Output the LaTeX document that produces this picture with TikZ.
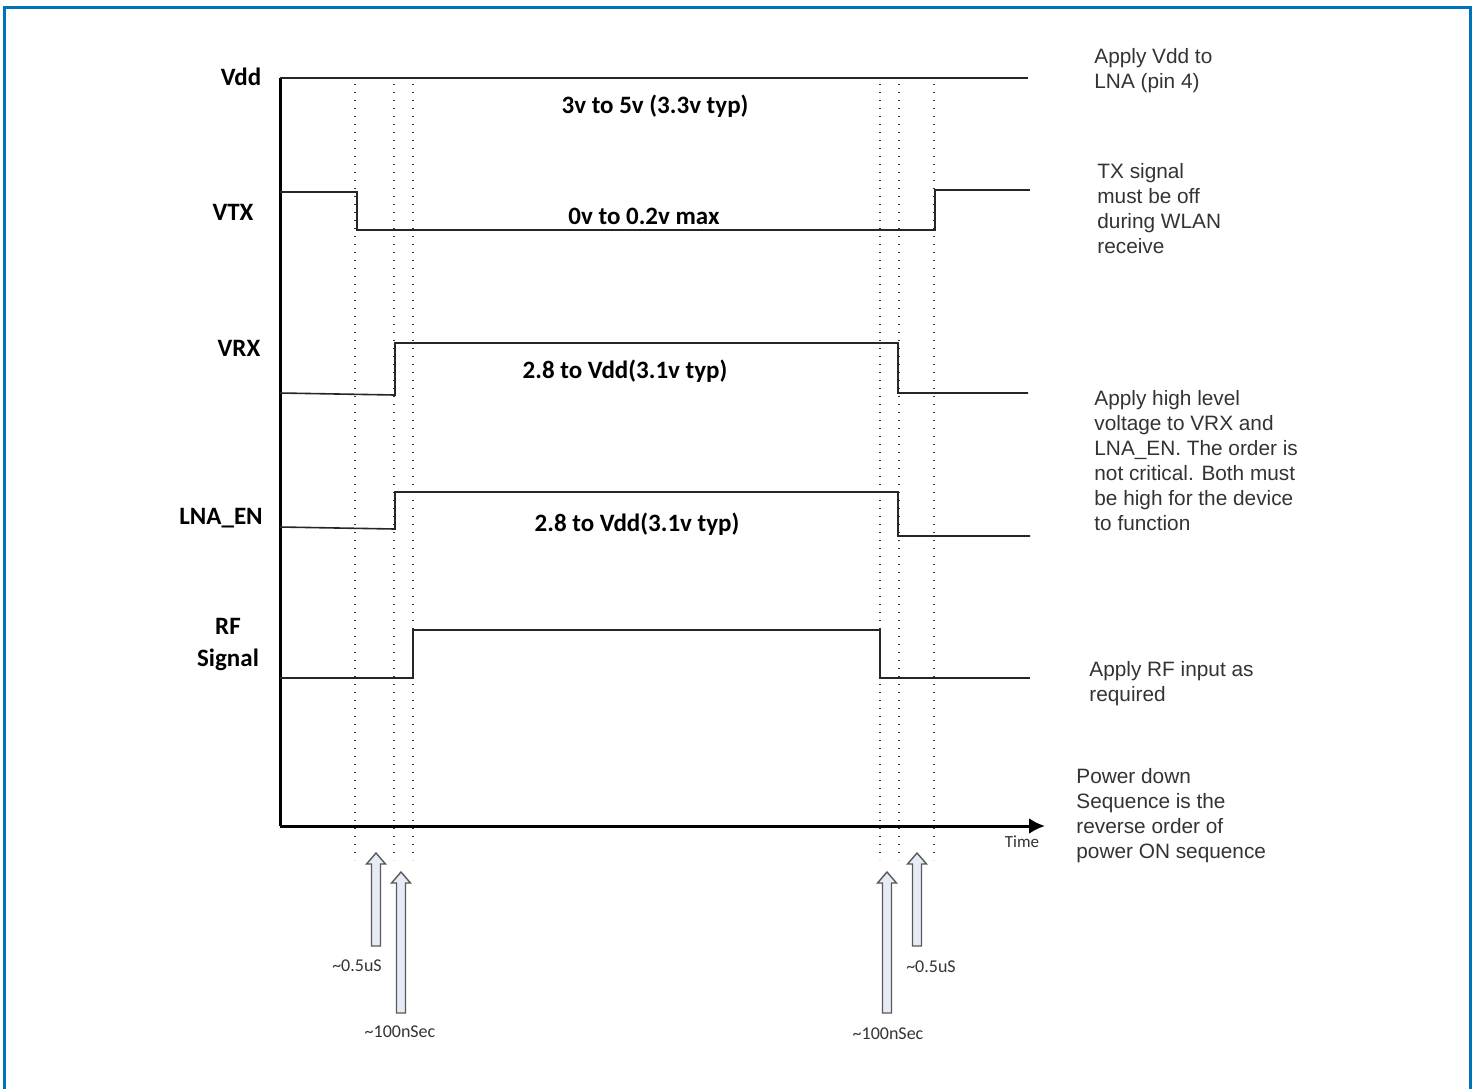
\documentclass[tikz,border=0pt]{standalone}
\usepackage{fontspec}
\setmainfont{Liberation Sans}
\newfontfamily\calibri{Carlito}
\usepackage{tikz}
\usetikzlibrary{arrows.meta}
\usetikzlibrary{positioning}

\definecolor{frameblue}{RGB}{0,114,184}
\definecolor{arrowfill}{RGB}{230,236,245}

% hollow block arrow: x, tip y, base y
\newcommand{\markarrow}[3]{%
  \draw[blockarr] (#1-4.5,#3) -- (#1-4.5,#2+11) -- (#1-9.5,#2+11) -- (#1,#2)
     -- (#1+9.5,#2+11) -- (#1+4.5,#2+11) -- (#1+4.5,#3) -- cycle;}

\begin{document}
\begin{tikzpicture}[x=0.5pt, y=-0.5pt,
        signame/.style={font=\calibri\bfseries\fontsize{12.5}{16}\selectfont, align=center, inner sep=0pt},
        level/.style={font=\calibri\bfseries\fontsize{12.5}{15}\selectfont, inner sep=0pt},
        note/.style={font=\fontsize{10.4}{12.5}\selectfont, align=left, anchor=north west, inner sep=0pt, text=black!80},
        delay/.style={font=\calibri\fontsize{9}{11}\selectfont, inner sep=0pt, text=black!80},
        wave/.style={line width=0.8pt, draw=black!85},
        axis/.style={line width=1.5pt, draw=black},
        tmark/.style={line width=0.6pt, draw=black!80, dash pattern=on 0.6pt off 3.4pt},
        blockarr/.style={line width=0.7pt, draw=black!65, fill=arrowfill}
      ]
        \useasboundingbox (0,0) rectangle (1475,1088);
        \draw[frameblue, line width=1.6pt] (4.5,1090) -- (4.5,7.5) -- (1470.5,7.5) -- (1470.5,1090);

        % timing marks
        \foreach \tx in {355,394,413,880,899,934}
            \draw[tmark] (\tx,84) -- (\tx,860);

        % axes
        \draw[axis] (280,78) -- (280,826) coordinate (origin);
        \draw[axis, -{Latex[length=8pt,width=8pt]}] (origin) -- (1045,826) coordinate (tend);
        \node[delay, font=\calibri\fontsize{8.5}{10}\selectfont] (time) at (1022,842) {Time};

        % waveforms
        \draw[wave] (280,78) -- (1028,78);
        \draw[wave] (280,192) -- (357,192) -- (357,230) -- (935,230) -- (935,190) -- (1030,190);
        \draw[wave] (280,393) -- (395,395) -- (395,343) -- (898,343) -- (898,393) -- (1028,393);
        \draw[wave] (280,527) -- (395,529) -- (395,492) -- (898,492) -- (898,536) -- (1030,536);
        \draw[wave] (280,678) -- (413,678) -- (413,630) -- (880,630) -- (880,678) -- (1030,678);

        % signal names
        \node[signame] (vdd)   at (241,77)  {Vdd};
        \node[signame] (vtx)   at (233,212) {VTX};
        \node[signame] (vrx)   at (239,348) {VRX};
        \node[signame] (lnaen) at (221,518) {LNA\_EN};
        \node[signame] (rf)    at (228,644) {RF\\Signal};

        % levels
        \node[level] (vddlvl) at (655,106) {3v to 5v (3.3v typ)};
        \node[level] (vtxlvl) at (644,216) {0v to 0.2v max};
        \node[level] (vrxlvl) at (625,371) {2.8 to Vdd(3.1v typ)};
        \node[level] (lnalvl) at (637,524) {2.8 to Vdd(3.1v typ)};

        % notes
        \node[note] (vddnote)  at (1094,48)  {Apply Vdd to\\LNA (pin 4)};
        \node[note] (vtxnote)  at (1097,163) {TX signal\\must be off\\during WLAN\\receive};
        \node[note] (rxnote)   at (1094,390) {Apply high level\\voltage to VRX and\\LNA\_EN. The order is\\not critical. Both must\\be high for the device\\to function};
        \node[note] (rfnote)   at (1089,661) {Apply RF input as\\required};
        \node[note] (offnote)  at (1076,768) {Power down\\Sequence is the\\reverse order of\\power ON sequence};

        % delay markers
        \markarrow{376}{853}{946}
        \markarrow{401}{872}{1013}
        \markarrow{887}{872}{1013}
        \markarrow{917}{853}{946}
        \node[delay] (on1)  at (357,966)  {\textasciitilde 0.5uS};
        \node[delay] (on2)  at (400,1032) {\textasciitilde 100nSec};
        \node[delay] (off1) at (888,1034) {\textasciitilde 100nSec};
        \node[delay] (off2) at (931,967)  {\textasciitilde 0.5uS};
      \end{tikzpicture}
\end{document}
